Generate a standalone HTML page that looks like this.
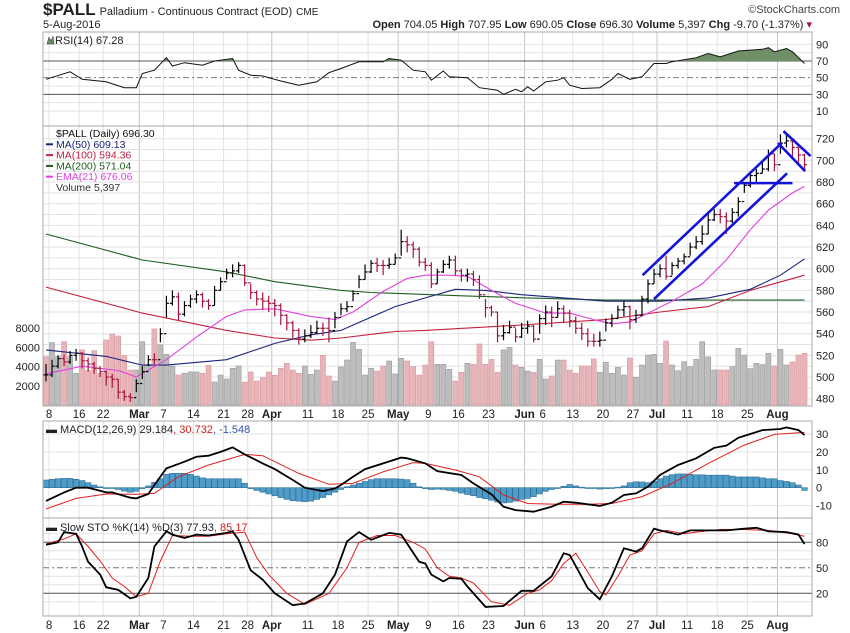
<!DOCTYPE html>
<html><head><meta charset="utf-8"><style>
html,body{margin:0;padding:0;background:#fff;}
svg{display:block;font-family:"Liberation Sans",sans-serif;}
</style></head><body>
<svg id="c" width="850" height="633" viewBox="0 0 850 633" xmlns="http://www.w3.org/2000/svg"></svg>
<script>
const closes=[502,510,517,514,520,522,515,512,508,505,500,498,486,482,481,494,505,516,516,540,568,574,558,566,572,576,570,566,580,588,596,598,603,587,578,572,570,568,566,557,550,543,535,538,541,545,545,543,555,563,565,577,590,597,605,603,603,604,610,625,622,618,606,603,586,597,604,608,598,594,595,590,576,564,560,538,541,546,537,545,547,535,554,560,555,563,559,552,545,540,533,533,534,550,554,562,565,553,557,572,586,595,600,593,603,607,611,620,625,632,645,650,648,644,652,662,677,686,688,692,706,696,716,718,712,705,696];
const highs=[512,516,520,521,524,526,523,518,514,510,506,503,498,488,485,498,510,520,522,545,575,580,578,570,576,580,578,572,584,592,600,604,606,604,586,580,578,575,572,568,558,552,545,544,548,552,550,555,560,568,570,580,594,604,608,610,608,610,614,636,630,625,620,610,606,600,608,612,612,600,600,598,594,572,566,560,548,552,545,550,552,548,558,566,565,570,566,562,556,550,545,540,542,554,558,566,570,566,562,575,590,600,604,612,606,610,614,624,630,640,652,655,655,652,656,666,680,690,692,698,710,706,724,724,718,712,706];
const lows=[496,500,508,510,512,515,508,505,503,500,492,490,480,478,477,486,498,510,512,532,555,566,552,556,564,568,564,562,566,580,590,592,596,584,572,566,562,560,556,548,543,535,530,532,536,540,538,532,545,557,560,570,582,590,596,597,594,600,604,612,615,610,602,598,582,586,596,600,594,588,588,584,572,555,556,532,534,540,532,536,540,532,540,548,546,555,550,546,540,534,528,528,528,542,546,554,556,544,550,556,568,586,592,590,594,600,604,612,618,622,632,644,642,632,642,648,670,675,680,688,690,690,706,712,702,698,690];
const volumes=[5030,6490,5030,6590,5030,3300,5730,3570,5650,3300,6770,7390,7180,5140,3640,3640,6590,4230,7910,6250,5270,4060,3120,3300,3440,3440,3300,4130,2390,3120,2700,3820,4060,2390,3440,2500,2850,3440,3090,3820,4340,3640,3300,4060,3190,3640,5170,3020,2500,3960,4680,6520,5800,3120,3820,3540,4060,4580,3230,4860,4580,3990,3120,4160,6590,4230,4230,3710,2500,3400,4340,4230,6350,4230,4750,3400,5730,6000,4160,3920,3540,3400,4750,2700,3020,4680,4680,3640,3300,4060,4060,4790,3400,4440,3300,3920,3120,4890,2880,4160,5200,5270,4340,6660,4160,3570,4510,3990,4750,6590,5000,3640,3640,3640,3990,5900,5200,3780,4340,4200,5380,4060,5800,4160,4480,5200,5380];
const ma50Idx=[0,10,16,20,30,38,44,49,58,63,68,73,79,93,102,110,117,122,126];
const ma50Val=[525,519,511,511,516,531,539,543,565,573,581,580,576,570,570,573,581,594,609];
const ma100Idx=[0,16,30,38,44,49,58,63,79,93,102,110,117,126];
const ma100Val=[583,559,543,536,534,536,542,543,548,553,560,565,580,594];
const ma200Idx=[0,16,30,38,49,54,59,69,80,93,126];
const ma200Val=[632,608,597,588,580,578,577,575,573,571,571];
const emaIdx=[0,6,12,15,20,25,30,33,38,44,48,51,56,60,63,67,70,74,78,83,87,91,94,97,100,104,109,113,117,120,124,126];
const emaVal=[503,510,506,500,516,537,556,562,563,556,553,560,579,591,594,594,593,580,568,559,559,553,549,551,559,570,586,608,636,654,670,676];
const rsiIdx=[0,4,6,10,13,15,16,18,20,21,23,26,28,31,32,34,36,39,42,45,47,49,52,56,57,59,61,63,64,66,67,70,72,75,76,78,79,80,81,83,85,86,87,89,92,94,95,97,99,101,103,104,108,110,112,115,119,120,121,123,124,126];
const rsiVal=[48,57,48,45,38,38,55,59,74,64,68,65,70,73,59,53,52,46,41,45,56,61,69,69,73,71,59,57,47,58,51,50,38,35,30,36,33,39,34,45,47,50,41,37,38,48,55,48,51,67,67,69,74,79,75,82,84,86,81,85,81,67];
const macdIdx=[0,3,5,7,10,11,14,15,17,18,20,23,25,27,29,31,33,36,38,41,43,46,48,49,51,53,56,59,60,63,65,69,71,74,76,78,81,84,86,88,91,92,94,96,98,100,102,105,108,111,113,115,117,119,122,123,125,126];
const macdVal=[-7.4,-2.6,0,0,-2.6,-2.6,-5.6,-6,-3.5,1.5,10.8,14.5,17.3,17.9,20,22.5,18.6,13.6,10.4,4.3,0,-1.9,-0.4,1.5,6.1,10.4,13.6,16.8,16.4,13.6,9.3,7.1,2.4,-3.7,-10.6,-12.5,-13.4,-10.6,-7.8,-8.4,-9.7,-10.2,-8.4,-4.1,-3.2,0.6,7.1,12.7,16.4,22.3,23.5,27.9,30,32.2,32.8,33.7,32.2,29.4];
const sigIdx=[0,5,10,15,18,22,27,33,36,42,47,51,56,61,63,68,72,76,80,85,90,94,99,104,110,116,121,126];
const sigVal=[-11.9,-6,-3.5,-3.7,-3.2,6.1,12.7,18.6,17.9,8,1.9,2.4,8.9,14,13.6,9.9,6.1,-4.1,-8.8,-9.3,-9.3,-8.8,-5,2.4,13.6,23.8,29.8,30.9];
const histVal=[4.3,4.7,5,5.2,5.2,4.7,4,2.8,1.5,0.5,0,-0.3,-1,-1.9,-2.5,-2,-0.5,1,3,5,7.5,8,8,8,7.5,6.5,5.5,5,5,5,5,5,5,2.5,-0.5,-1.5,-2.5,-3.5,-4.5,-5.5,-6.5,-7.3,-7.5,-7.8,-7.5,-6.5,-5.5,-4,-2.5,-1,0.5,1.5,2.5,3.5,4.5,5,5,5,5,4.8,4.5,2.5,0.5,-0.5,-1,-0.8,-1,-1.5,-2,-3,-3.8,-4.5,-5.5,-6.2,-7,-8,-8.5,-8.2,-7.5,-6.5,-6,-5,-3.5,-2,-1,-0.3,0.8,1.8,1,0.3,0,-0.3,-0.8,-0.5,0,0.3,1,2.8,3.3,3.2,2.8,3.5,5,6.5,7.3,7.7,7.7,7.5,7.2,7.2,7,7,7,7,6.5,6,6,6,6,5.5,5,5,4,3.5,2.8,1.5,-1.5];
const kIdx=[0,2,3,5,6,7,9,10,12,14,15,17,18,20,21,23,25,27,30,31,32,34,36,38,41,43,46,48,50,52,54,57,59,62,63,64,66,67,69,70,73,76,79,81,84,86,87,90,92,94,96,98,99,101,102,105,107,113,116,118,120,123,125,126];
const kVal=[77,80,92,90,75,57,42,27,24,14,16,38,75,93,89,85,89,88,91,93,83,47,36,20,6,8,20,42,81,92,83,91,89,57,55,42,34,38,37,28,4,5,23,23,40,67,65,26,13,40,73,69,73,96,94,89,94,94,96,97,93,92,89,78];
const dIdx=[0,3,5,7,9,11,13,15,17,19,21,24,27,30,33,35,37,40,43,47,50,52,55,58,61,63,65,67,69,71,74,77,80,82,84,86,88,90,92,93,95,97,99,101,103,106,108,112,116,120,124,126];
const dVal=[78,84,90,75,58,38,28,16,20,58,88,87,87,90,92,62,42,20,7,20,50,80,88,88,80,72,50,40,38,32,10,6,20,24,35,55,67,45,22,18,40,65,70,90,94,90,92,95,95,94,90,87];
const priceTicks=[720,700,680,660,640,620,600,580,560,540,520,500,480];
const volTicks=[8000,6000,4000,2000];
const rsiTicks=[90,70,50,30,10];
const macdTicks=[30,20,10,0,-10];
const stoTicks=[80,50,20];
const dateLabels=["8","16","22","Mar","7","14","21","28","Apr","11","18","25","May","9","16","23","Jun","6","13","20","27","Jul","11","18","25","Aug"];
const dateIdx=[1,6,10,16,20,25,30,34,38,44,49,54,59,64,69,74,80,83,88,93,98,102,107,112,117,122];
const monthLabel=["Mar","Apr","May","Jun","Jul","Aug"];

const NS="http://www.w3.org/2000/svg";
const svg=document.getElementById('c');
function el(tag,attrs,parent){const e=document.createElementNS(NS,tag);for(const k in attrs)e.setAttribute(k,attrs[k]);(parent||svg).appendChild(e);return e;}
const L=43,R=812;
const X=i=>46+i*6.02;
const yP=p=>138.7+(720-p)*1.0833;
const yV=v=>405-v*0.00961;
const yR=v=>61+(70-v)*0.833;
const yM=v=>487.7-v*1.79;
const yS=v=>542.3+(80-v)*0.85;
const panels=[{n:'rsi-panel',t:32,b:126},{n:'price-panel',t:126,b:406},{n:'macd-panel',t:421,b:518},{n:'sto-panel',t:518,b:616}];

panels.forEach(p=>{
  dateIdx.forEach((i,k)=>{
    const m=monthLabel.includes(dateLabels[k]);
    const g=el('line',{x1:X(i)-3,x2:X(i)-3,y1:p.t,y2:p.b,stroke:m?'#c4c4c4':'#e2e2e2','stroke-width':1});
    
    
  });
});
function hgrid(t,b,f,vals,c){vals.forEach(v=>{const l=el('line',{x1:L,x2:R,y1:f(v),y2:f(v),stroke:c||'#e2e2e2'});});}
hgrid(0,0,yR,[90,80,60,40,20,10]);
hgrid(0,0,yP,[720,710,700,690,680,670,660,650,640,630,620,610,600,590,580,570,560,550,540,530,520,510,500,490,480]);
hgrid(0,0,yM,[30,20,10,-10]);
hgrid(0,0,yS,[90,70,60,40,30,10]);

function axisLabels(ticks,f,name){ticks.forEach(v=>{const t=el('text',{x:816,y:f(v)+4,'font-size':11,fill:'#222'});t.textContent=v;});}
axisLabels(priceTicks,yP,'price-tick-label');
axisLabels(rsiTicks,yR,'rsi-tick-label');
axisLabels(macdTicks,yM,'macd-tick-label');
axisLabels(stoTicks,yS,'sto-tick-label');
volTicks.forEach(v=>{const t=el('text',{x:40,y:yV(v)+4,'font-size':11,fill:'#222','text-anchor':'end'});t.textContent=v;});

function pts(idx,val,f){return idx.map((i,k)=>X(i).toFixed(1)+','+f(val[k]).toFixed(1)).join(' ');}

[[70,'#555','none'],[30,'#555','none'],[50,'#777','6,3,2,3']].forEach(a=>{const l=el('line',{x1:L,x2:R,y1:yR(a[0]),y2:yR(a[0]),stroke:a[1],'stroke-dasharray':a[2]});});
const cp=el('clipPath',{id:'ob'});el('rect',{x:L,y:30,width:R-L,height:yR(70)-30},cp);
const fillPts=X(rsiIdx[0])+','+yR(70)+' '+pts(rsiIdx,rsiVal,yR)+' '+X(rsiIdx[rsiIdx.length-1])+','+yR(70);
const rf=el('polygon',{points:fillPts,fill:'#6f8f66','clip-path':'url(#ob)',stroke:'none'});


const rl=el('polyline',{points:pts(rsiIdx,rsiVal,yR),fill:'none',stroke:'#111','stroke-width':1});



volumes.forEach((v,i)=>{const up=i==0?false:closes[i]>closes[i-1];const r=el('rect',{x:X(i)-2.5,y:yV(v),width:5,height:405-yV(v),fill:up?'#bdbdbd':'#e8b4b8',stroke:up?'#9a9a9a':'#d39aa0','stroke-width':0.6});});

[[ma200Idx,ma200Val,'#1f5e1f','ma200-line'],[ma100Idx,ma100Val,'#c0223f','ma100-line'],[ma50Idx,ma50Val,'#1a237e','ma50-line'],[emaIdx,emaVal,'#e040e0','ema21-line']].forEach(a=>{const l=el('polyline',{points:pts(a[0],a[1],yP),fill:'none',stroke:a[2],'stroke-width':1.1});});

closes.forEach((c,i)=>{const up=i==0?true:c>closes[i-1];const col=up?'#000':'#a3133c';const o=i==0?c:closes[i-1];const g=el('g',{stroke:col,'stroke-width':1.2});
el('line',{x1:X(i),x2:X(i),y1:yP(highs[i]),y2:yP(lows[i])},g);el('line',{x1:X(i)-2.5,x2:X(i),y1:yP(o),y2:yP(o)},g);el('line',{x1:X(i),x2:X(i)+2.5,y1:yP(c),y2:yP(c)},g);});

const trendLines=[[99.1,594,122.2,716],[101,572,123.1,688],[114.3,679,124,679],[122.5,727,127,704],[121.6,716,126.1,690]];
trendLines.forEach(t=>{const l=el('line',{x1:X(t[0]),y1:yP(t[1]),x2:X(t[2]),y2:yP(t[3]),stroke:'#1414d8','stroke-width':2.6});});

histVal.forEach((v,i)=>{const y0=yM(0),y1=yM(v);const r=el('rect',{x:X(i)-2.8,y:Math.min(y0,y1),width:5.6,height:Math.max(0.8,Math.abs(y1-y0)),fill:'#4f9cc8',stroke:'#2f6f96','stroke-width':0.6});});
const sl=el('polyline',{points:pts(sigIdx,sigVal,yM),fill:'none',stroke:'#e02020','stroke-width':1});


const ml=el('polyline',{points:pts(macdIdx,macdVal,yM),fill:'none',stroke:'#000','stroke-width':1.8});



[[80,'#555','none'],[20,'#555','none'],[50,'#777','6,3,2,3']].forEach(a=>{const l=el('line',{x1:L,x2:R,y1:yS(a[0]),y2:yS(a[0]),stroke:a[1],'stroke-dasharray':a[2]});});
const dl=el('polyline',{points:pts(dIdx,dVal,yS),fill:'none',stroke:'#e02020','stroke-width':1});


const kl=el('polyline',{points:pts(kIdx,kVal,yS),fill:'none',stroke:'#000','stroke-width':1.8});



panels.forEach(p=>{const r=el('rect',{x:L,y:p.t,width:R-L,height:p.b-p.t,fill:'none',stroke:'#a8a8a8'});});

[418,629].forEach((y,row)=>{dateLabels.forEach((s,k)=>{const m=monthLabel.includes(s);const t=el('text',{x:X(dateIdx[k])-3,y:y,'font-size':11.5,'font-weight':m?'bold':'normal','text-anchor':'middle',fill:'#222'});t.textContent=s;});});

function txt(x,y,s,attrs,name){const t=el('text',Object.assign({x:x,y:y,'font-size':11,fill:'#222'},attrs||{}));t.innerHTML=s;return t;}
txt(43,15,'<tspan font-size="17" font-weight="bold">$PALL</tspan><tspan dx="4" font-size="11">Palladium - Continuous Contract (EOD)</tspan><tspan dx="4" font-size="10">CME</tspan>',{},'chart-title');
txt(43,28,'5-Aug-2016',{'font-size':11},'chart-date');
txt(840,13,'©StockCharts.com',{'font-size':11,'text-anchor':'end',fill:'#444'},'copyright');
txt(812,28,'<tspan font-weight="bold">Open</tspan> 704.05 <tspan font-weight="bold">High</tspan> 707.95 <tspan font-weight="bold">Low</tspan> 690.05 <tspan font-weight="bold">Close</tspan> 696.30 <tspan font-weight="bold">Volume</tspan> 5,397 <tspan font-weight="bold">Chg</tspan> -9.70 (-1.37%) <tspan fill="#a3133c">▾</tspan>',{'text-anchor':'end','font-size':11},'quote-summary');
txt(55,44,'RSI(14) 67.28',{'font-size':11},'rsi-legend');
const ri=el('path',{d:'M47,44 L49,37 L51,41 L53,36 L54,44 Z',fill:'#6f8f66',stroke:'#333','stroke-width':0.5});


const leg=[['$PALL (Daily) 696.30','#111'],['MA(50) 609.13','#1a237e'],['MA(100) 594.36','#c0223f'],['MA(200) 571.04','#1f5e1f'],['EMA(21) 676.06','#e040e0'],['Volume 5,397','#333']];
leg.forEach((l,k)=>{const y=137+k*10.8;if(k>0&&k<5){const s=el('line',{x1:46,x2:53,y1:y-3.5,y2:y-3.5,stroke:l[1],'stroke-width':2});}txt(56,y,l[0],{'font-size':10.5,fill:l[1]},'price-legend-entry');});
txt(46,433,'<tspan>▬ MACD(12,26,9) 29.184</tspan><tspan fill="#d02020">, 30.732</tspan><tspan fill="#3355aa">, -1.548</tspan>',{'font-size':11},'macd-legend');
txt(46,531,'<tspan>▬ Slow STO %K(14) %D(3) 77.93</tspan><tspan fill="#d02020">, 85.17</tspan>',{'font-size':11},'sto-legend');
</script>
</body></html>
